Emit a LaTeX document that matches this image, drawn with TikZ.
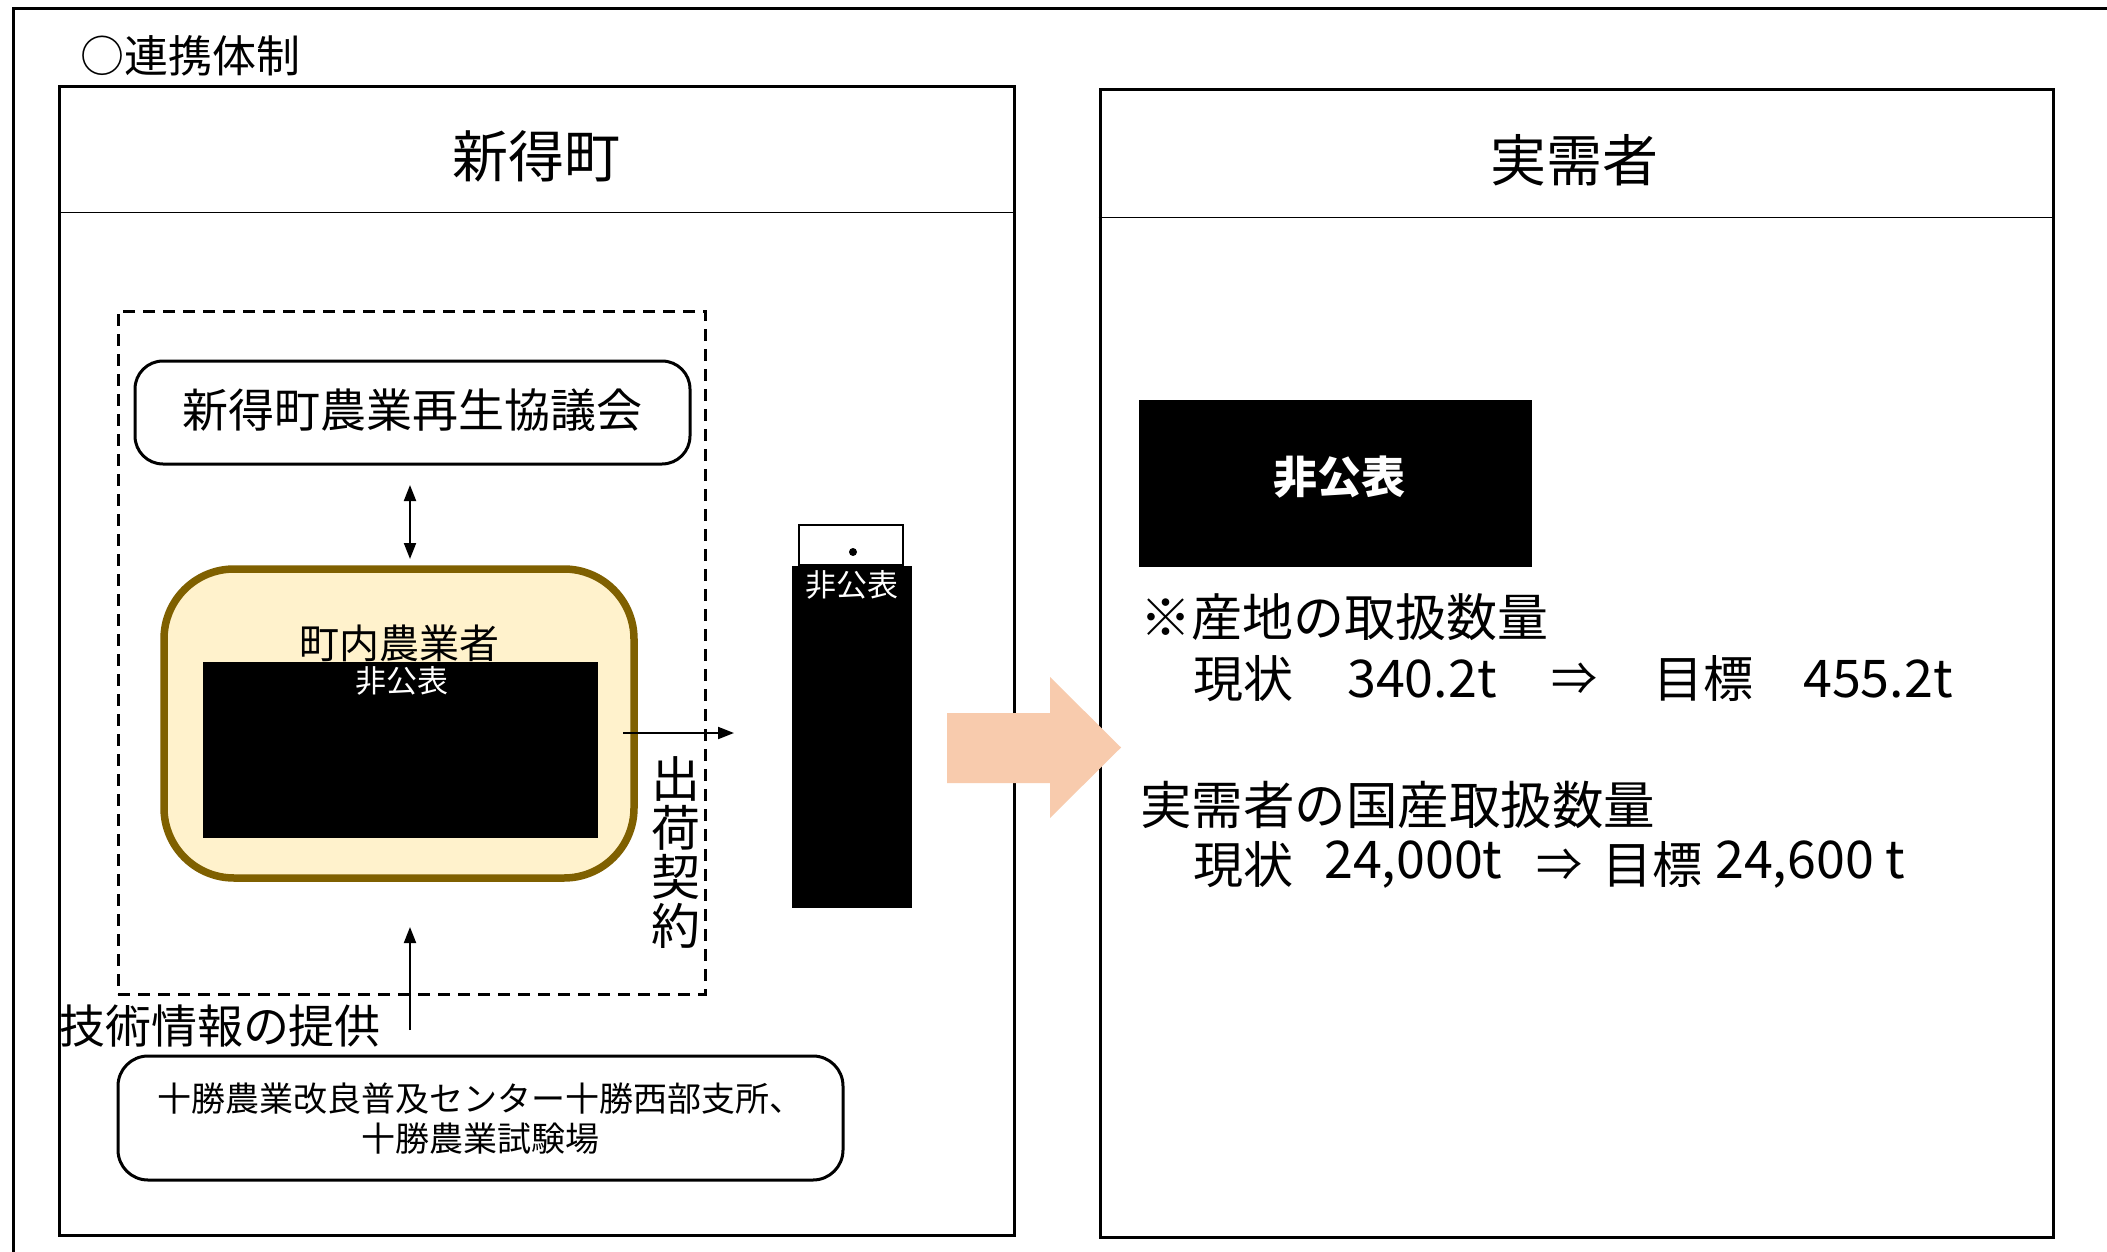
\documentclass[tikz,border=0pt]{standalone}
\usepackage{fontspec}
\setmainfont{Noto Sans CJK JP}
\usetikzlibrary{arrows.meta,calc}
\definecolor{peach}{HTML}{F8CBAD}
\definecolor{brownb}{HTML}{7F6000}
\definecolor{cream}{HTML}{FFF2CC}
\newcommand{\fs}[1]{\fontsize{#1}{#1}\selectfont}
\tikzset{
  panel/.style={draw, line width=3pt, inner sep=0pt},
  rbox/.style={draw, line width=3pt, inner sep=0pt, rounded corners=28pt},
  redact/.style={fill=black, inner sep=0pt},
  wtxt/.style={text=white, inner sep=0pt},
  txt/.style={inner sep=0pt},
  conn/.style={line width=2pt, -{Triangle[length=16pt,width=12pt]}},
  conn2/.style={line width=2pt, {Triangle[length=16pt,width=12pt]}-{Triangle[length=16pt,width=12pt]}},
}
\begin{document}
\begin{tikzpicture}[x=1pt,y=-1pt]
\useasboundingbox (0,0) rectangle (2107,1252);
\fill[white] (0,0) rectangle (2107,1252);
% outer frame (only left and top edges visible)
\coordinate (ob) at (13.5,1252);
\coordinate (ot) at (13.5,9);
\coordinate (or) at (2107,9);
\draw[line width=3pt] (ob) -- (ot) -- (or);
\node[txt, font=\fs{44}] (title) at (190,56) {○連携体制};

% left panel
\node[panel, minimum width=954.5pt, minimum height=1148.5pt] (lp) at (536.75,660.75) {};
\draw[line width=1.5pt] ([yshift=-127.5pt]lp.north west) -- ([yshift=-127.5pt]lp.north east);
\node[txt, font=\fs{56}] (lpt) at (536,156) {新得町};

% right panel
\node[panel, minimum width=953pt, minimum height=1147pt] (rp) at (1576.5,663.5) {};
\draw[line width=1.5pt] ([yshift=-129pt]rp.north west) -- ([yshift=-129pt]rp.north east);
\node[txt, font=\fs{56}] (rpt) at (1574,160) {実需者};

% dashed group
\node[draw, line width=3pt, dash pattern=on 12pt off 8pt, inner sep=0pt,
      minimum width=587pt, minimum height=683pt] (grp) at (411.5,652.5) {};

% council box
\node[rbox, minimum width=555pt, minimum height=103pt] (kyo) at (412.5,412.5) {};
\node[txt, font=\fs{46}] (kyot) at (412.5,410) {新得町農業再生協議会};

% farmers box
\node[draw=brownb, fill=cream, line width=7.5pt, rounded corners=70pt, inner sep=0pt,
      minimum width=470pt, minimum height=309pt] (farm) at (399,723.5) {};
\node[txt, font=\fs{40}] (farmt) at (399,643) {町内農業者};
\node[redact, minimum width=395pt, minimum height=176pt] (farmr) at (400.5,750) {};
\node[wtxt, font=\fs{31}] (farmw) at (402,681) {非公表};

% double arrow council <-> farmers
\coordinate (da1) at (410,485);
\coordinate (da2) at (410,559);
\draw[conn2] (da1) -- (da2);

% shipping arrow
\coordinate (sa1) at (623,733);
\coordinate (sa2) at (734,733);
\draw[conn] (sa1) -- (sa2);
\node[txt, font=\fs{49}, align=center] (ship) at (676,853) {出\\[0pt]荷\\[0pt]契\\[0pt]約};

% redacted column
\node[draw, line width=2pt, fill=white, inner sep=0pt, minimum width=104pt, minimum height=40pt] (colt) at (851,545) {};
\fill (853,552) circle (4pt);
\node[redact, minimum width=120pt, minimum height=342pt] (col) at (852,737) {};
\node[wtxt, font=\fs{31}] (colw) at (852,585) {非公表};

% technical info arrow
\coordinate (ta1) at (410,1030);
\coordinate (ta2) at (410,927);
\draw[conn] (ta1) -- (ta2);
\node[txt, font=\fs{46}] (tech) at (220,1026) {技術情報の提供};

% bottom box
\node[rbox, rounded corners=30pt, minimum width=725pt, minimum height=124pt] (tok) at (480.5,1118) {};
\node[txt, font=\fs{34}, align=center, text depth=0pt] (tokt) at (480.5,1117)
  {十勝農業改良普及センター十勝西部支所、\\[6pt]十勝農業試験場};

% big arrow
\fill[peach] (947,713) -- (1050,713) -- (1050,677) -- (1121,747.5) -- (1050,818) -- (1050,783) -- (947,783) -- cycle;

% right side content
\node[redact, minimum width=393pt, minimum height=167pt] (rr) at (1335.5,483.5) {};
\node[wtxt, font=\bfseries\fs{44}] (rrw) at (1339,477) {非公表};

\node[txt, anchor=west, font=\fs{51}] (l1) at (1140,617) {※産地の取扱数量};
\node[txt, anchor=west, font=\fs{50}] (a1) at (1193,679) {現状};
\node[txt, anchor=west, font=\fs{52}] (a2) at (1347,679) {340.2t};
\node[txt, anchor=west, font=\fs{46}] (a3) at (1551,679) {⇒};
\node[txt, anchor=west, font=\fs{50}] (a4) at (1653,679) {目標};
\node[txt, anchor=west, font=\fs{52}] (a5) at (1803,679) {455.2t};

\node[txt, anchor=west, font=\fs{51.5}] (l2) at (1140,805) {実需者の国産取扱数量};
\node[txt, anchor=west, font=\fs{50}] (b1) at (1193,865) {現状};
\node[txt, anchor=west, font=\fs{52}] (b2) at (1324,865) {24,000t};
\node[txt, anchor=west, font=\fs{46}] (b3) at (1536,865) {⇒};
\node[txt, anchor=west, font=\fs{50}] (b4) at (1602,865) {目標};
\node[txt, anchor=west, font=\fs{52}] (b5) at (1715,865) {24,600 t};
\end{tikzpicture}
\end{document}
